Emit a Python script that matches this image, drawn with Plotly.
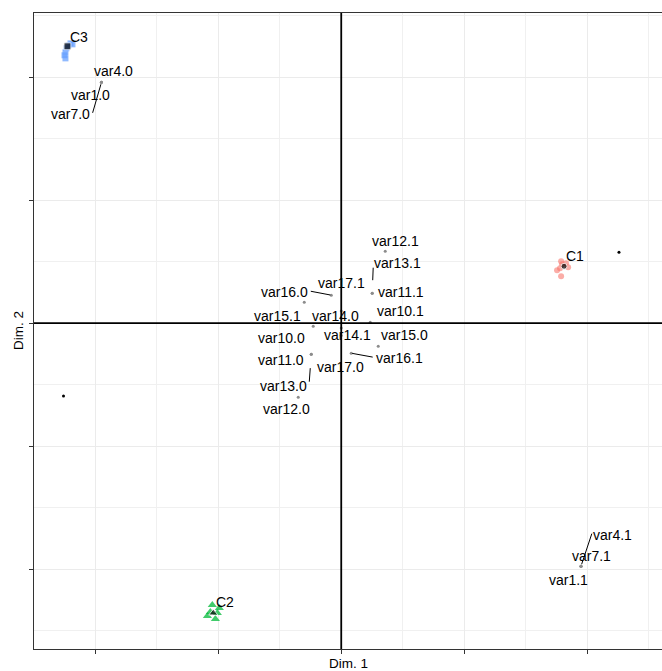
import plotly.graph_objects as go

# ---- data ----
var_names = ["var1.0", "var4.0", "var7.0", "var1.1", "var4.1", "var7.1",
             "var10.0", "var10.1", "var11.0", "var11.1", "var12.0", "var12.1",
             "var13.0", "var13.1", "var14.0", "var14.1", "var15.0", "var15.1",
             "var16.0", "var16.1", "var17.0", "var17.1"]
var_x = [-1.951, -1.951, -1.951, 1.951, 1.951, 1.951,
         -0.228, 0.236, -0.244, 0.252, -0.350, 0.358,
         -0.244, 0.252, 0.0, 0.0, 0.301, -0.301,
         -0.081, 0.081, 0.0, 0.0]
var_y = [1.959, 1.959, 1.959, -1.976, -1.976, -1.976,
         -0.024, 0.008, -0.252, 0.244, -0.602, 0.585,
         -0.252, 0.244, 0.04, -0.04, -0.187, 0.171,
         0.228, -0.244, -0.10, 0.10]

c1_x = [1.756, 1.789, 1.797, 1.829, 1.846, 1.780, 1.789]
c1_y = [0.431, 0.382, 0.480, 0.488, 0.455, 0.447, 0.504]
c2_x = [-1.049, -0.992, -1.089, -1.024, -1.008, -1.065]
c2_y = [-2.293, -2.317, -2.382, -2.407, -2.358, -2.350]
c3_x = [-2.203, -2.187, -2.236, -2.244, -2.252, -2.244, -2.220]
c3_y = [2.276, 2.268, 2.236, 2.203, 2.179, 2.154, 2.260]

centroid_names = ["C1", "C2", "C3"]
centroid_x = [1.813, -1.041, -2.228]
centroid_y = [0.463, -2.358, 2.252]

extra_x = [2.26, -2.26]
extra_y = [0.577, -0.593]

# ---- layout of labels (pixel offsets from the point) ----
label_off = {
    "var1.0": (-11, 13), "var4.0": (12, -11), "var7.0": (-31, 32),
    "var1.1": (-13, 14), "var4.1": (31, -31), "var7.1": (10, -10),
    "var10.0": (-32, 12), "var10.1": (30, -11), "var11.0": (-30, 6),
    "var11.1": (29, -1), "var12.0": (-12, 12), "var12.1": (10, -10),
    "var13.0": (-28, 32), "var13.1": (25, -30), "var14.0": (-6, -2),
    "var14.1": (6, 7), "var15.0": (26, -11), "var15.1": (-27, 14),
    "var16.0": (-47, -3), "var16.1": (48, 5), "var17.0": (-1, 32),
    "var17.1": (0, -28),
}
segments = {
    "var7.0": (-9, 31, 2), "var4.1": (11, -33, 2), "var13.0": (-2, 28, 14),
    "var13.1": (1, -26, 13), "var16.0": (-21, -4, 1), "var16.1": (22, 4, 1),
}
centroid_off = {"C1": (11, -10), "C2": (12, -11), "C3": (12, -9)}

FONT = "Liberation Sans, Arial, sans-serif"

fig = go.Figure()

fig.add_trace(go.Scatter(x=c1_x, y=c1_y, mode="markers",
                         marker=dict(symbol="circle", size=6, color="#F8766D", opacity=0.6),
                         hoverinfo="skip"))
fig.add_trace(go.Scatter(x=c2_x, y=c2_y, mode="markers",
                         marker=dict(symbol="triangle-up", size=8, color="#00BA38", opacity=0.75),
                         hoverinfo="skip"))
fig.add_trace(go.Scatter(x=c3_x, y=c3_y, mode="markers",
                         marker=dict(symbol="square", size=6, color="#619CFF", opacity=0.7),
                         hoverinfo="skip"))
fig.add_trace(go.Scatter(x=var_x, y=var_y, mode="markers",
                         marker=dict(size=3, color="#8c8c8c"), hoverinfo="skip"))
fig.add_trace(go.Scatter(x=extra_x, y=extra_y, mode="markers",
                         marker=dict(size=3, color="black"), hoverinfo="skip"))
fig.add_trace(go.Scatter(x=centroid_x, y=centroid_y, mode="markers",
                         marker=dict(symbol=["circle", "triangle-up", "square"], size=[6, 8, 7],
                                     color="black"),
                         hoverinfo="skip"))

annotations = []
for n, x, y in zip(var_names, var_x, var_y):
    dx, dy = label_off[n]
    annotations.append(dict(x=x, y=y, text=n, showarrow=False, xshift=dx, yshift=-dy,
                            xanchor="center", yanchor="middle",
                            font=dict(family=FONT, size=14, color="black")))
    if n in segments:
        tx, ty, so = segments[n]
        annotations.append(dict(x=x, y=y, text="", showarrow=True, ax=tx, ay=ty,
                                arrowhead=0, arrowwidth=1, arrowcolor="black",
                                standoff=so, borderpad=0))
for n, x, y in zip(centroid_names, centroid_x, centroid_y):
    dx, dy = centroid_off[n]
    annotations.append(dict(x=x, y=y, text=n, showarrow=False, xshift=dx, yshift=-dy,
                            xanchor="center", yanchor="middle",
                            font=dict(family=FONT, size=14, color="black")))

annotations.append(dict(xref="paper", yref="paper", x=0.5, y=0, yshift=-5, text="Dim. 1",
                        showarrow=False, xanchor="center", yanchor="top",
                        font=dict(family=FONT, size=13.5, color="black")))
annotations.append(dict(xref="paper", yref="paper", x=0, y=0.5, xshift=-16, text="Dim. 2",
                        textangle=-90, showarrow=False, xanchor="center", yanchor="middle",
                        font=dict(family=FONT, size=13.5, color="black")))

axis_common = dict(showticklabels=False, ticks="outside", ticklen=4, tickwidth=1,
                   tickcolor="#333333", dtick=1, tick0=0, showgrid=True,
                   gridcolor="#EBEBEB", gridwidth=1, zeroline=False,
                   showline=True, linecolor="#333333", linewidth=1.3,
                   minor=dict(dtick=0.5, tick0=0, showgrid=True, gridcolor="#F0F0F0",
                              gridwidth=0.7, ticks=""),
                   automargin=False)

fig.update_layout(
    width=662, height=671,
    margin=dict(l=34, r=0, t=13, b=22),
    plot_bgcolor="white", paper_bgcolor="white",
    showlegend=False,
    xaxis=dict(range=[-2.5, 2.61], mirror=True, **axis_common),
    yaxis=dict(range=[-2.65, 2.523], mirror=False, **axis_common),
    annotations=annotations,
    shapes=[
        dict(type="line", xref="x", yref="paper", x0=0, x1=0, y0=0, y1=1,
             line=dict(color="black", width=1.8), layer="above"),
        dict(type="line", xref="paper", yref="y", x0=0, x1=1, y0=0, y1=0,
             line=dict(color="black", width=1.8), layer="above"),
    ],
)

fig.write_html("out.html", config={"displayModeBar": False},
               post_script="document.body.style.margin='0';document.body.style.overflow='hidden';")
